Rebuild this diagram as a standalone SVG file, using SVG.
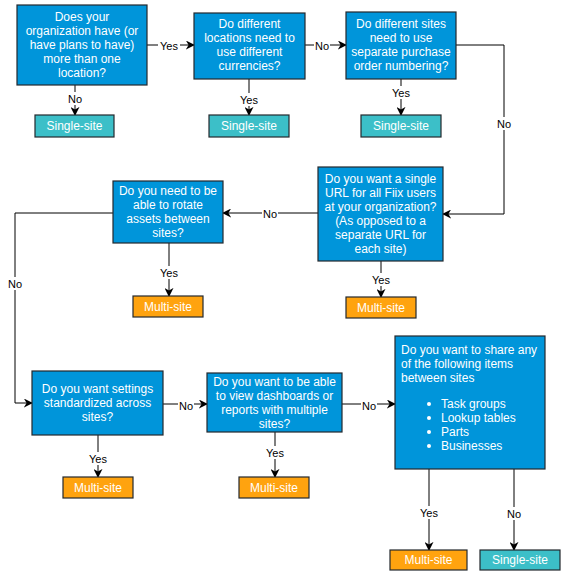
<svg xmlns="http://www.w3.org/2000/svg" width="571" height="581" viewBox="0 0 571 581">
<defs>
<marker id="arr" viewBox="0 0 10 10" refX="9" refY="5" markerWidth="9" markerHeight="9" markerUnits="userSpaceOnUse" orient="auto">
<path d="M0,0 L10,5 L0,10 L3,5 z" fill="#000"/>
</marker>
<style>
.q{fill:#0095DA;stroke:#23282d;stroke-width:1.2}
.ss{fill:#3CBFC8;stroke:#23282d;stroke-width:1.2}
.ms{fill:#FFA30F;stroke:#23282d;stroke-width:1.2}
.t{font-family:"Liberation Sans",Arial,sans-serif;font-size:12px;fill:#fff;text-anchor:middle}
.tl{font-family:"Liberation Sans",Arial,sans-serif;font-size:12px;fill:#fff}
.e{fill:none;stroke:#000;stroke-width:1;marker-end:url(#arr)}
.lb{font-family:"Liberation Sans",Arial,sans-serif;font-size:11px;fill:#000;text-anchor:middle}
.bg{fill:#fff}
</style>
</defs>
<rect width="571" height="581" fill="#fff"/>
<g id="connectors">
<path class="e" d="M147,45 H194"/>
<path class="e" d="M75,85 V115"/>
<path class="e" d="M305,45 H346"/>
<path class="e" d="M249,79 V115"/>
<path class="e" d="M401,79 V115"/>
<path class="e" d="M456,45 H504 V214 H443"/>
<path class="e" d="M381,261 V297"/>
<path class="e" d="M318,213 H223"/>
<path class="e" d="M169,243 V296"/>
<path class="e" d="M113,213 H15 V403 H32"/>
<path class="e" d="M98,435 V477"/>
<path class="e" d="M163,404 H207"/>
<path class="e" d="M275,432 V477"/>
<path class="e" d="M342,404 H395"/>
<path class="e" d="M429,469 V550"/>
<path class="e" d="M514,469 V550"/>
<rect class="bg" x="158" y="39" width="22" height="13"/><text class="lb" x="169" y="50">Yes</text>
<rect class="bg" x="67" y="92" width="16" height="13"/><text class="lb" x="75" y="103">No</text>
<rect class="bg" x="314" y="39" width="16" height="13"/><text class="lb" x="322" y="50">No</text>
<rect class="bg" x="238" y="93" width="22" height="13"/><text class="lb" x="249" y="104">Yes</text>
<rect class="bg" x="390" y="86" width="22" height="13"/><text class="lb" x="401" y="97">Yes</text>
<rect class="bg" x="496" y="117" width="16" height="13"/><text class="lb" x="504" y="128">No</text>
<rect class="bg" x="370" y="273" width="22" height="13"/><text class="lb" x="381" y="284">Yes</text>
<rect class="bg" x="262" y="207" width="16" height="13"/><text class="lb" x="270" y="218">No</text>
<rect class="bg" x="158" y="266" width="22" height="13"/><text class="lb" x="169" y="277">Yes</text>
<rect class="bg" x="7" y="277" width="16" height="13"/><text class="lb" x="15" y="288">No</text>
<rect class="bg" x="87" y="452" width="22" height="13"/><text class="lb" x="98" y="463">Yes</text>
<rect class="bg" x="178" y="399" width="16" height="13"/><text class="lb" x="186" y="410">No</text>
<rect class="bg" x="264" y="446" width="22" height="13"/><text class="lb" x="275" y="457">Yes</text>
<rect class="bg" x="361" y="399" width="16" height="13"/><text class="lb" x="369" y="410">No</text>
<rect class="bg" x="418" y="506" width="22" height="13"/><text class="lb" x="429" y="517">Yes</text>
<rect class="bg" x="506" y="507" width="16" height="13"/><text class="lb" x="514" y="518">No</text>
</g>
<g id="q1"><rect class="q" x="17" y="5" width="130" height="80"/>
<text class="t"><tspan x="82" y="21">Does your</tspan><tspan x="82" y="35">organization have (or</tspan><tspan x="82" y="49">have plans to have)</tspan><tspan x="82" y="63">more than one</tspan><tspan x="82" y="77">location?</tspan></text></g>
<g id="s1"><rect class="ss" x="35" y="115" width="79" height="22"/><text class="t" x="74.5" y="130">Single-site</text></g>
<g id="q2"><rect class="q" x="194" y="13" width="111" height="66"/>
<text class="t"><tspan x="249.5" y="28">Do different</tspan><tspan x="249.5" y="42">locations need to</tspan><tspan x="249.5" y="56">use different</tspan><tspan x="249.5" y="70">currencies?</tspan></text></g>
<g id="s2"><rect class="ss" x="209" y="115" width="80" height="22"/><text class="t" x="249" y="130">Single-site</text></g>
<g id="q3"><rect class="q" x="346" y="12" width="110" height="67"/>
<text class="t"><tspan x="401" y="28">Do different sites</tspan><tspan x="401" y="42">need to use</tspan><tspan x="401" y="56">separate purchase</tspan><tspan x="401" y="70">order numbering?</tspan></text></g>
<g id="s3"><rect class="ss" x="361" y="115" width="80" height="22"/><text class="t" x="401" y="130">Single-site</text></g>
<g id="q4"><rect class="q" x="318" y="167" width="125" height="94"/>
<text class="t"><tspan x="380.5" y="183">Do you want a single</tspan><tspan x="380.5" y="197">URL for all Fiix users</tspan><tspan x="380.5" y="211">at your organization?</tspan><tspan x="380.5" y="225">(As opposed to a</tspan><tspan x="380.5" y="239">separate URL for</tspan><tspan x="380.5" y="253">each site)</tspan></text></g>
<g id="m4"><rect class="ms" x="346" y="297" width="70" height="21"/><text class="t" x="381" y="312">Multi-site</text></g>
<g id="q5"><rect class="q" x="113" y="181" width="110" height="62"/>
<text class="t"><tspan x="168" y="195">Do you need to be</tspan><tspan x="168" y="209">able to rotate</tspan><tspan x="168" y="223">assets between</tspan><tspan x="168" y="237">sites?</tspan></text></g>
<g id="m5"><rect class="ms" x="133" y="296" width="70" height="21"/><text class="t" x="168" y="311">Multi-site</text></g>
<g id="q6"><rect class="q" x="32" y="371" width="131" height="64"/>
<text class="t"><tspan x="97.5" y="393">Do you want settings</tspan><tspan x="97.5" y="407">standardized across</tspan><tspan x="97.5" y="421">sites?</tspan></text></g>
<g id="m6"><rect class="ms" x="63" y="477" width="70" height="21"/><text class="t" x="98" y="492">Multi-site</text></g>
<g id="q7"><rect class="q" x="207" y="373" width="135" height="59"/>
<text class="t"><tspan x="274.5" y="386">Do you want to be able</tspan><tspan x="274.5" y="400">to view dashboards or</tspan><tspan x="274.5" y="414">reports with multiple</tspan><tspan x="274.5" y="428">sites?</tspan></text></g>
<g id="m7"><rect class="ms" x="239" y="477" width="70" height="21"/><text class="t" x="274" y="492">Multi-site</text></g>
<g id="q8"><rect class="q" x="395" y="336" width="150" height="133"/>
<text class="tl"><tspan x="401" y="354">Do you want to share any</tspan><tspan x="401" y="368">of the following items</tspan><tspan x="401" y="382">between sites</tspan></text>
<g fill="#fff"><circle cx="429" cy="404" r="2"/><circle cx="429" cy="418" r="2"/><circle cx="429" cy="432" r="2"/><circle cx="429" cy="446" r="2"/></g>
<text class="tl"><tspan x="441" y="408">Task groups</tspan><tspan x="441" y="422">Lookup tables</tspan><tspan x="441" y="436">Parts</tspan><tspan x="441" y="450">Businesses</tspan></text></g>
<g id="m8"><rect class="ms" x="390" y="550" width="77" height="20"/><text class="t" x="428.5" y="564">Multi-site</text></g>
<g id="s8"><rect class="ss" x="480" y="550" width="80" height="20"/><text class="t" x="520" y="564">Single-site</text></g>
</svg>
